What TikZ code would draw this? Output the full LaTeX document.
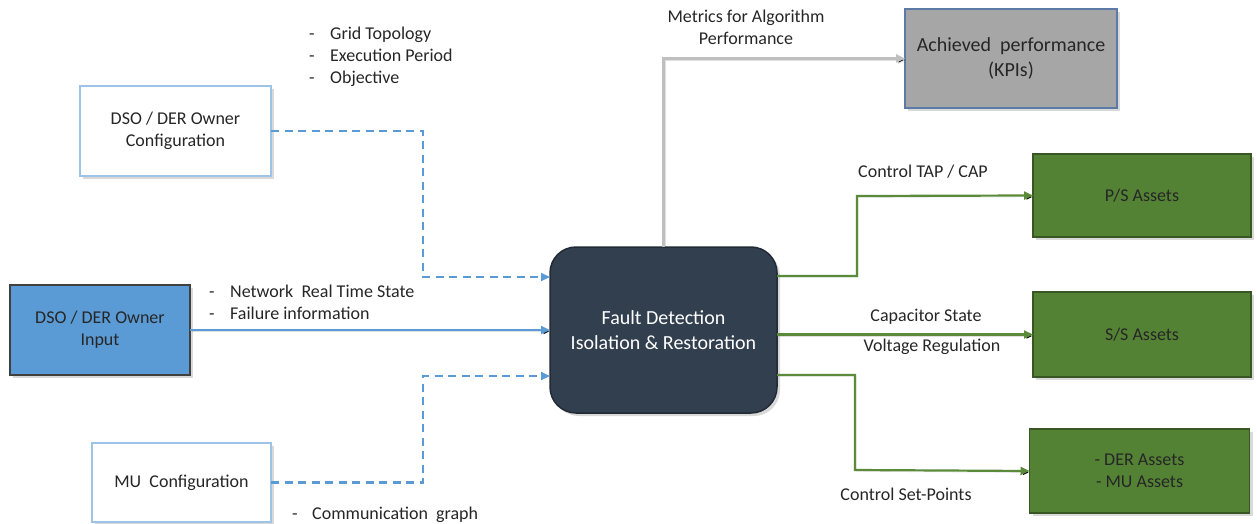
\documentclass[tikz,border=0pt]{standalone}
\usepackage{fontspec}
\setmainfont{Carlito}
\usetikzlibrary{arrows.meta,shadows}

\definecolor{inblue}{HTML}{5B9BD5}
\definecolor{cfgedge}{HTML}{9DC3E6}
\definecolor{darkslate}{HTML}{323F4F}
\definecolor{slateedge}{HTML}{222A35}
\definecolor{kpigray}{HTML}{A6A6A6}
\definecolor{kpiedge}{HTML}{5B7AA6}
\definecolor{assetgreen}{HTML}{548235}
\definecolor{assetedge}{HTML}{385723}
\definecolor{flowgreen}{HTML}{5A8A3A}
\definecolor{flowgray}{HTML}{BFBFBF}
\definecolor{labeltext}{HTML}{262626}

\tikzset{
  base/.style={rectangle, outer sep=0pt, inner sep=0pt, align=center,
    text=labeltext, font=\fontsize{18}{22}\selectfont,
    drop shadow={opacity=0.3, shadow xshift=3pt, shadow yshift=-3pt}},
  cfgbox/.style={base, draw=cfgedge, line width=1.5pt, fill=white},
  inbox/.style={base, draw=black!75, line width=1.5pt, fill=inblue},
  corebox/.style={base, draw=slateedge, line width=1.5pt, fill=darkslate,
    rounded corners=26pt, text=white, font=\fontsize{20}{25}\selectfont},
  kpibox/.style={base, draw=kpiedge, line width=1.3pt, fill=kpigray,
    font=\fontsize{20}{25}\selectfont},
  assetbox/.style={base, draw=assetedge, line width=1.5pt, fill=assetgreen},
  lbl/.style={inner sep=0pt, text height=13pt, text depth=4pt,
    text=labeltext, font=\fontsize{18}{22}\selectfont},
  tip/.style={-{Triangle[length=9pt,width=8pt]}},
  lineshade/.style={preaction={draw=black, draw opacity=0.12,
    transform canvas={xshift=1.5pt,yshift=-1.5pt}}},
  bluedash/.style={tip, draw=inblue, line width=2.2pt, dash pattern=on 8pt off 5.5pt},
  blueline/.style={tip, lineshade, draw=inblue, line width=2.2pt},
  grayline/.style={tip, lineshade, draw=flowgray, line width=2.4pt},
  greenline/.style={tip, lineshade, draw=flowgreen, line width=2.2pt},
}

\begin{document}
\begin{tikzpicture}[x=1pt,y=-1pt]
\useasboundingbox (0,0) rectangle (1257,524);

% boxes
\node[cfgbox, minimum width=191pt, minimum height=90pt] (cfg) at (175.5,131)
  {DSO / DER Owner\\Configuration};
\node[inbox, minimum width=180pt, minimum height=90pt] (inp) at (100,330)
  {DSO / DER Owner\\Input};
\node[cfgbox, minimum width=179pt, minimum height=79pt] (mu) at (181.5,482.5)
  {MU\ \ Configuration};
\node[corebox, minimum width=227pt, minimum height=166pt] (fdir) at (663.5,330)
  {Fault Detection\\Isolation \& Restoration};
\node[kpibox, minimum width=212pt, minimum height=99pt] (kpi) at (1011,58.5)
  {Achieved\ \ performance\\(KPIs)};
\node[assetbox, minimum width=218pt, minimum height=83pt] (ps) at (1142,195.5)
  {P/S Assets};
\node[assetbox, minimum width=218pt, minimum height=85pt] (ss) at (1142,334.5)
  {S/S Assets};
\node[assetbox, minimum width=220pt, minimum height=84pt] (der) at (1139.5,471)
  {- DER Assets\\- MU Assets};

% bend points of the connectors
\coordinate (bendA) at (423,277);
\coordinate (bendB) at (423,376);
\coordinate (bendC) at (857,196);
\coordinate (bendD) at (855,470);

% inputs
\draw[bluedash] (cfg.east) -| (bendA) -- ([yshift=53pt]fdir.west);
\draw[blueline] (inp.east) -- (fdir.west);
\draw[bluedash] (mu.east) -| (bendB) -- ([yshift=-46pt]fdir.west);

% outputs
\draw[grayline] (fdir.north) |- (kpi.west);
\draw[greenline] ([yshift=54pt]fdir.east) -| (bendC) -- (ps.west);
\draw[greenline] (fdir.east |- ss.west) -- (ss.west);
\draw[greenline] ([yshift=-45pt]fdir.east) -| (bendD) -- (der.west);

% flow labels
\node[lbl, anchor=west] (g1d) at (309,35) {-};
\node[lbl, anchor=west] (g1) at (330,35) {Grid Topology};
\node[lbl, anchor=west] (g2d) at (309,57) {-};
\node[lbl, anchor=west] (g2) at (330,57) {Execution Period};
\node[lbl, anchor=west] (g3d) at (309,79) {-};
\node[lbl, anchor=west] (g3) at (330,79) {Objective};

\node[lbl, anchor=west] (n1d) at (209,293) {-};
\node[lbl, anchor=west] (n1) at (230,293) {Network\ \ Real Time State};
\node[lbl, anchor=west] (n2d) at (209,315) {-};
\node[lbl, anchor=west] (n2) at (230,315) {Failure information};

\node[lbl, anchor=west] (c1d) at (292,515) {-};
\node[lbl, anchor=west] (c1) at (312,515) {Communication\ \ graph};

\node[lbl, align=center, text height=, text depth=] (met) at (746,27) {Metrics for Algorithm\\Performance};
\node[lbl, anchor=west] (tap) at (858,173) {Control TAP / CAP};
\node[lbl] (cap) at (926,317) {Capacitor State};
\node[lbl] (vreg) at (932,347) {Voltage Regulation};
\node[lbl] (csp) at (906,496) {Control Set-Points};
\end{tikzpicture}
\end{document}
